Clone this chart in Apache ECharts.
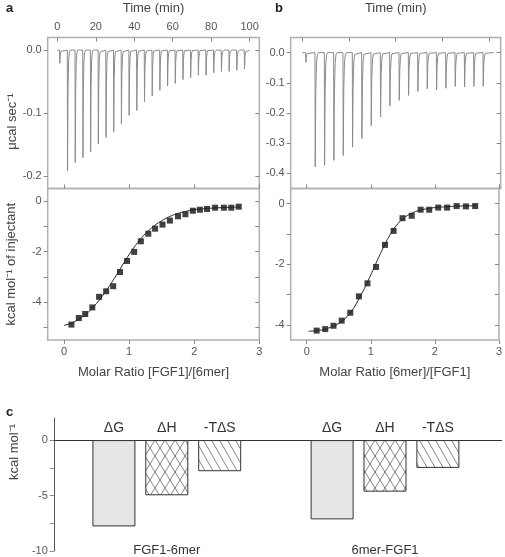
<!DOCTYPE html>
<html><head><meta charset="utf-8">
<script src="https://cdn.jsdelivr.net/npm/echarts@6/dist/echarts.min.js"></script>
<style>html,body{margin:0;padding:0;background:#fff}#c{width:505px;height:557px}</style>
</head><body><div id="c"></div>
<script>
// ---- Panel a: raw thermogram (injection times in min, peak heights in µcal/s)
const injTimesA = [1.2,5.2,9.2,13.2,17.2,21.2,25.2,29.2,33.2,37.2,41.2,45.2,49.2,53.2,57.2,61.2,65.2,69.2,73.2,77.2,81.2,85.2,89.2,93.2,97.2];
const peaksA = [-0.021,-0.192,-0.179,-0.171,-0.162,-0.149,-0.139,-0.130,-0.117,-0.104,-0.096,-0.082,-0.073,-0.064,-0.057,-0.053,-0.047,-0.044,-0.040,-0.040,-0.036,-0.034,-0.034,-0.032,-0.030];
// ---- Panel b: raw thermogram
const injTimesB = [1.4,5.4,9.4,13.4,17.4,21.4,25.4,29.4,33.4,37.4,41.4,45.4,49.4,53.4,57.4,61.4,65.4,69.4,73.4,77.4];
const peaksB = [-0.032,-0.378,-0.373,-0.357,-0.341,-0.313,-0.285,-0.242,-0.213,-0.177,-0.158,-0.142,-0.129,-0.120,-0.123,-0.118,-0.112,-0.114,-0.112,-0.112];
// ---- Panel a: integrated heats
const ratioA = [0.114,0.228,0.326,0.435,0.539,0.648,0.756,0.860,0.969,1.078,1.181,1.295,1.399,1.513,1.627,1.751,1.865,1.979,2.088,2.197,2.321,2.456,2.570,2.684];
const heatA = [-4.89,-4.63,-4.47,-4.21,-3.79,-3.57,-3.37,-2.81,-2.37,-2.01,-1.59,-1.29,-1.09,-0.93,-0.77,-0.60,-0.52,-0.38,-0.34,-0.31,-0.26,-0.26,-0.26,-0.22];
const fitXA = [0,0.1,0.2,0.3,0.4,0.5,0.6,0.7,0.8,0.9,1.0,1.1,1.2,1.3,1.4,1.5,1.6,1.7,1.8,1.9,2.0,2.2,2.4,2.6,2.7];
const fitYA = [-4.92,-4.85,-4.72,-4.55,-4.33,-4.05,-3.72,-3.35,-2.95,-2.53,-2.12,-1.75,-1.43,-1.17,-0.95,-0.78,-0.64,-0.53,-0.45,-0.39,-0.34,-0.29,-0.26,-0.24,-0.23];
// ---- Panel b: integrated heats
const ratioB = [0.155,0.289,0.418,0.546,0.680,0.814,0.948,1.082,1.222,1.356,1.495,1.639,1.778,1.912,2.052,2.191,2.340,2.485,2.629];
const heatB = [-4.19,-4.14,-4.03,-3.86,-3.60,-3.06,-2.63,-2.09,-1.36,-0.90,-0.48,-0.40,-0.20,-0.20,-0.13,-0.13,-0.08,-0.09,-0.08];
const fitXB = [0.03,0.2,0.4,0.5,0.6,0.7,0.8,0.9,1.0,1.1,1.2,1.3,1.4,1.5,1.6,1.7,1.8,1.9,2.0,2.2,2.4,2.63];
const fitYB = [-4.21,-4.18,-4.06,-3.95,-3.79,-3.55,-3.20,-2.80,-2.35,-1.88,-1.43,-1.03,-0.72,-0.50,-0.36,-0.26,-0.20,-0.16,-0.13,-0.10,-0.08,-0.07];
// ---- Panel c: thermodynamic parameters (kcal/mol)
const complexes = ['FGF1-6mer','6mer-FGF1'];
const dG = [-7.82,-7.18];
const dH = [-5.00,-4.67];
const mTdS = [-2.82,-2.52];

function trace(times, peaks, start, end){
  const d=[[start,0]];
  times.forEach((t,i)=>{const p=peaks[i];
    d.push([t,0],[t+0.12,p],[t+0.35,p*0.35],[t+0.65,p*0.1],[t+1.0,p*0.02],[t+1.5,0]);});
  d.push([end,0]); return d;
}
function hatch(w,h,cross){
  const c=document.createElement('canvas');c.width=w;c.height=h;
  const g=c.getContext('2d');g.fillStyle='#fff';g.fillRect(0,0,w,h);
  g.strokeStyle='#666';g.lineWidth=0.8;
  for(const dx of [-w,0,w]){g.beginPath();g.moveTo(dx,0);g.lineTo(dx+w,h);g.stroke();}
  if(cross){for(const dx of [-w,0,w]){g.beginPath();g.moveTo(dx+w,0);g.lineTo(dx,h);g.stroke();}}
  return c;
}
const pts=(xs,ys)=>xs.map((x,i)=>[x,ys[i]]);

const FONT='Liberation Sans';
const TXT='#444', LBL='#555', FRAME='#b0b0b0';
const frameGrid=(l,t,w,h)=>({left:l,top:t,width:w,height:h,show:true,borderColor:FRAME,borderWidth:1.5,backgroundColor:'transparent'});
const hid={show:false};
const noLine={show:false,onZero:false};
const lab=(vals,fmt,margin)=>({show:true,customValues:vals,formatter:fmt,fontSize:11,color:LBL,margin:margin});
const tick=(vals,inside,len)=>({show:true,customValues:vals,inside:inside,length:len||4,lineStyle:{color:'#888',width:1}});

const chart=echarts.init(document.getElementById('c'),null,{renderer:'canvas'});
chart.setOption({
  animation:false,
  textStyle:{fontFamily:FONT},
  title:[
    {text:'a',left:1,top:-3,textStyle:{fontSize:13,fontWeight:'bold',color:'#222',fontFamily:FONT}},
    {text:'b',left:270,top:-3,textStyle:{fontSize:13,fontWeight:'bold',color:'#222',fontFamily:FONT}},
    {text:'c',left:1,top:401,textStyle:{fontSize:13,fontWeight:'bold',color:'#222',fontFamily:FONT}}
  ],
  grid:[
    frameGrid(47.7,37.5,211.6,151),
    frameGrid(47.7,188.5,211.6,151.5),
    frameGrid(290.7,37.5,210,151),
    frameGrid(290.7,188.5,210,151.5),
    {left:45.7,top:418,width:456,height:133},
    {left:57.7,top:418,width:436.4,height:133}
  ],
  xAxis:[
    {gridIndex:0,type:'value',min:-5,max:105,position:'top',axisLine:noLine,splitLine:hid,
     axisTick:tick([0,20,40,60,80,100],true),axisLabel:lab([0,20,40,60,80,100],null,5),
     name:'Time (min)',nameLocation:'middle',nameGap:23,nameTextStyle:{fontSize:13,color:TXT}},
    {gridIndex:1,type:'value',min:-0.25,max:3,position:'bottom',axisLine:noLine,splitLine:hid,
     axisTick:tick([0,1,2,3],false),axisLabel:lab([0,1,2,3],null,6),
     name:'Molar Ratio [FGF1]/[6mer]',nameLocation:'middle',nameGap:26,nameTextStyle:{fontSize:13,color:TXT}},
    {gridIndex:2,type:'value',min:-5,max:85,position:'top',axisLine:noLine,splitLine:hid,
     axisTick:tick([0,20,40,60,80],true),axisLabel:hid,
     name:'Time (min)',nameLocation:'middle',nameGap:23,nameTextStyle:{fontSize:13,color:TXT}},
    {gridIndex:3,type:'value',min:-0.25,max:3,position:'bottom',axisLine:noLine,splitLine:hid,
     axisTick:tick([0,1,2,3],false),axisLabel:lab([0,1,2,3],null,6),
     name:'Molar Ratio [6mer]/[FGF1]',nameLocation:'middle',nameGap:26,nameTextStyle:{fontSize:13,color:TXT}},
    {gridIndex:4,type:'value',min:0,max:1,axisLine:{show:true,onZero:true,lineStyle:{color:'#333',width:1}},
     axisTick:hid,axisLabel:hid,splitLine:hid},
    {gridIndex:5,type:'category',data:complexes,axisLine:noLine,axisTick:hid,splitLine:hid,
     axisLabel:{show:true,fontSize:13,color:'#333',verticalAlign:'middle',margin:0}},
    {gridIndex:1,type:'value',min:-0.25,max:3,position:'top',axisLine:noLine,splitLine:hid,axisLabel:hid,axisTick:tick([0,1,2,3],false)},
    {gridIndex:3,type:'value',min:-0.25,max:3,position:'top',axisLine:noLine,splitLine:hid,axisLabel:hid,axisTick:tick([0,1,2,3],false)}
  ],
  yAxis:[
    {gridIndex:0,type:'value',min:-0.22,max:0.02,axisLine:noLine,splitLine:hid,
     axisTick:tick([-0.2,-0.1,0],false),axisLabel:lab([-0.2,-0.1,0],v=>v.toFixed(1),6),
     name:'\u03bccal sec\u207b\u00b9',nameLocation:'middle',nameGap:27,nameTextStyle:{fontSize:13,color:TXT,padding:[0,17,0,0]}},
    {gridIndex:1,type:'value',min:-5.5,max:0.5,axisLine:noLine,splitLine:hid,
     axisTick:tick([-5,-4,-3,-2,-1,0],false),axisLabel:lab([-4,-2,0],null,6),
     name:'kcal mol\u207b\u00b9 of injectant',nameLocation:'middle',nameGap:30,nameTextStyle:{fontSize:13,color:TXT}},
    {gridIndex:2,type:'value',min:-0.45,max:0.05,axisLine:noLine,splitLine:hid,
     axisTick:tick([-0.4,-0.3,-0.2,-0.1,0],false),axisLabel:lab([-0.4,-0.3,-0.2,-0.1,0],v=>v.toFixed(1),6)},
    {gridIndex:3,type:'value',min:-4.5,max:0.5,axisLine:noLine,splitLine:hid,
     axisTick:tick([-4,-3,-2,-1,0],false),axisLabel:lab([-4,-2,0],null,6)},
    {gridIndex:4,type:'value',min:-10,max:2,axisLine:{show:true,onZero:false,lineStyle:{color:'#555',width:1}},splitLine:hid,
     axisTick:tick([-10,-7.5,-5,-2.5,0],false),axisLabel:lab([-10,-5,0],null,6),
     name:'kcal mol\u207b\u00b9',nameLocation:'middle',nameGap:27,nameTextStyle:{fontSize:13,color:TXT,padding:[0,0,0,65]}},
    {gridIndex:5,type:'value',min:-10,max:2,show:false},
    {gridIndex:0,type:'value',min:-0.22,max:0.02,position:'right',axisLine:noLine,splitLine:hid,axisLabel:hid,axisTick:tick([-0.2,-0.1,0],true)},
    {gridIndex:1,type:'value',min:-5.5,max:0.5,position:'right',axisLine:noLine,splitLine:hid,axisLabel:hid,axisTick:tick([-5,-4,-3,-2,-1,0],true)},
    {gridIndex:2,type:'value',min:-0.45,max:0.05,position:'right',axisLine:noLine,splitLine:hid,axisLabel:hid,axisTick:tick([-0.4,-0.3,-0.2,-0.1,0],true)},
    {gridIndex:3,type:'value',min:-4.5,max:0.5,position:'right',axisLine:noLine,splitLine:hid,axisLabel:hid,axisTick:tick([-4,-3,-2,-1,0],true)}
  ],
  series:[
    {type:'line',xAxisIndex:0,yAxisIndex:0,data:trace(injTimesA,peaksA,0,100),showSymbol:false,lineStyle:{color:'#8a8a8a',width:1}},
    {type:'line',xAxisIndex:2,yAxisIndex:2,data:trace(injTimesB,peaksB,0,82),showSymbol:false,lineStyle:{color:'#8a8a8a',width:1}},
    {type:'line',xAxisIndex:1,yAxisIndex:1,data:pts(fitXA,fitYA),smooth:true,showSymbol:false,lineStyle:{color:'#222',width:1}},
    {type:'scatter',xAxisIndex:1,yAxisIndex:1,data:pts(ratioA,heatA),symbol:'rect',symbolSize:6,itemStyle:{color:'#111'}},
    {type:'line',xAxisIndex:3,yAxisIndex:3,data:pts(fitXB,fitYB),smooth:true,showSymbol:false,lineStyle:{color:'#222',width:1}},
    {type:'scatter',xAxisIndex:3,yAxisIndex:3,data:pts(ratioB,heatB),symbol:'rect',symbolSize:6,itemStyle:{color:'#111'}},
    {type:'bar',name:'\u0394G',xAxisIndex:5,yAxisIndex:5,data:dG,barWidth:43,barGap:'23%',
     itemStyle:{color:'#e6e6e6',borderColor:'#333',borderWidth:1},
     label:{show:true,position:'top',formatter:'{a}',fontSize:14,color:'#333',distance:5}},
    {type:'bar',name:'\u0394H',xAxisIndex:5,yAxisIndex:5,data:dH,barWidth:43,barGap:'23%',
     itemStyle:{color:{image:hatch(10,16,true),repeat:'repeat'},borderColor:'#333',borderWidth:1},
     label:{show:true,position:'top',formatter:'{a}',fontSize:14,color:'#333',distance:5}},
    {type:'bar',name:'-T\u0394S',xAxisIndex:5,yAxisIndex:5,data:mTdS,barWidth:43,barGap:'23%',
     itemStyle:{color:{image:hatch(8,14,false),repeat:'repeat'},borderColor:'#333',borderWidth:1},
     label:{show:true,position:'top',formatter:'{a}',fontSize:14,color:'#333',distance:5}}
  ]
});
</script></body></html>
